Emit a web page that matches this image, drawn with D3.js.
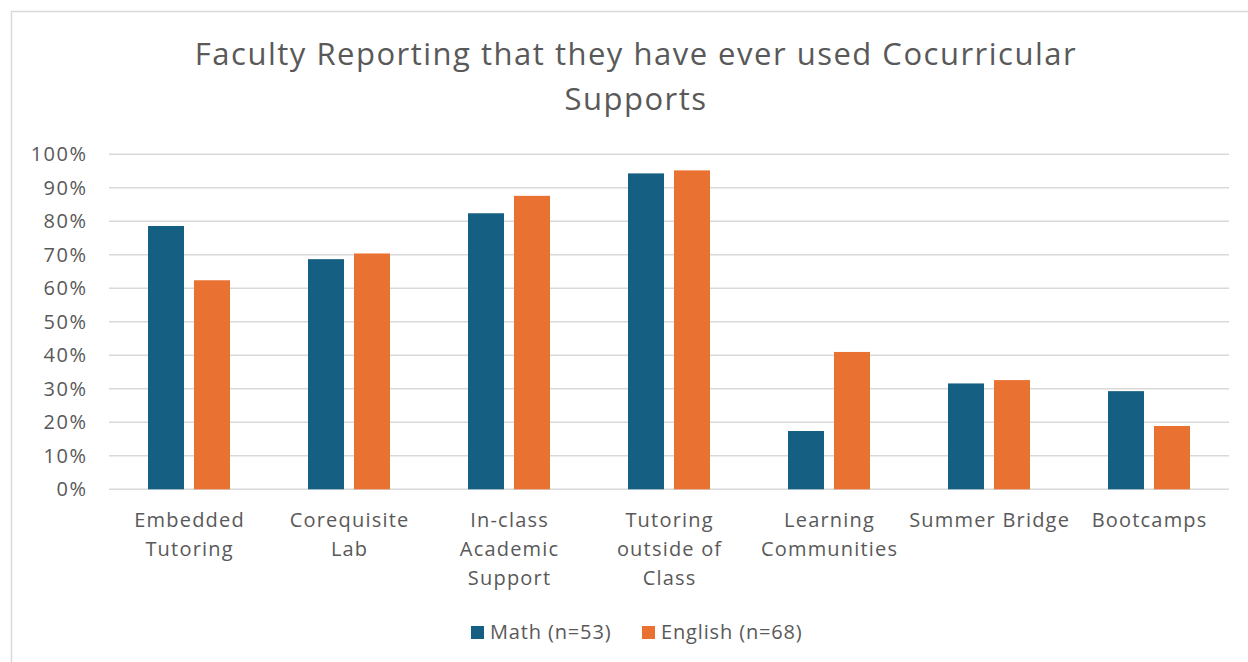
<!DOCTYPE html>
<html>
<head>
<meta charset="utf-8">
<script src="https://cdn.jsdelivr.net/npm/d3@7"></script>
<style>
  html, body { margin: 0; padding: 0; background: #ffffff; }
  svg { display: block; }
  text { font-family: "Open Sans", "Liberation Sans", sans-serif; fill: #595959; }
</style>
</head>
<body>
<svg id="chart" width="1248" height="662"></svg>
<script>
// Cocurricular supports and the share of faculty who have ever used each
const categories = [
  ["Embedded", "Tutoring"],
  ["Corequisite", "Lab"],
  ["In-class", "Academic", "Support"],
  ["Tutoring", "outside of", "Class"],
  ["Learning", "Communities"],
  ["Summer Bridge"],
  ["Bootcamps"]
];
const seriesNames = ["Math (n=53)", "English (n=68)"];
const mathValues = [78.6, 68.7, 82.4, 94.3, 17.4, 31.6, 29.3];
const englishValues = [62.4, 70.4, 87.6, 95.2, 41.0, 32.6, 18.9];
const yTicks = [0, 10, 20, 30, 40, 50, 60, 70, 80, 90, 100];
const titleLines = ["Faculty Reporting that they have ever used Cocurricular", "Supports"];

const colors = ["#156082", "#E97132"];
const seriesValues = [mathValues, englishValues];

const svg = d3.select("#chart");

// chart frame
svg.append("rect")
  .attr("x", 11.5).attr("y", 11.5)
  .attr("width", 1260).attr("height", 700)
  .attr("fill", "#ffffff")
  .attr("stroke", "#D9D9D9").attr("stroke-width", 1.5);

const plot = { left: 109, right: 1229, top: 154.3, bottom: 489.3 };

const x0 = d3.scaleBand()
  .domain(d3.range(categories.length))
  .range([plot.left, plot.right])
  .padding(0);

const groupWidth = 82;
const x1 = d3.scaleBand()
  .domain(d3.range(seriesNames.length))
  .range([(x0.bandwidth() - groupWidth) / 2, (x0.bandwidth() + groupWidth) / 2])
  .paddingInner(0.217);

const y = d3.scaleLinear().domain([0, 100]).range([plot.bottom, plot.top]);

// gridlines
svg.append("g")
  .selectAll("line")
  .data(yTicks)
  .join("line")
  .attr("x1", plot.left).attr("x2", plot.right)
  .attr("y1", d => y(d)).attr("y2", d => y(d))
  .attr("stroke", "#D9D9D9").attr("stroke-width", 1.5);

// y axis labels
const yAxis = d3.axisLeft(y).tickValues(yTicks).tickFormat(d => d + "%").tickSize(0).tickPadding(0);
const yg = svg.append("g").attr("transform", `translate(87.5,0)`).call(yAxis);
yg.select(".domain").remove();
yg.selectAll("text")
  .attr("font-size", 20)
  .attr("fill", "#595959")
  .style("letter-spacing", "1.5px")
  .style("font-family", '"Open Sans", sans-serif');

// bars
const groups = svg.append("g")
  .selectAll("g")
  .data(categories.map((c, i) => i))
  .join("g")
  .attr("transform", i => `translate(${x0(i)},0)`);

groups.selectAll("rect")
  .data(i => seriesValues.map((vals, s) => ({ s, v: vals[i] })))
  .join("rect")
  .attr("x", d => x1(d.s))
  .attr("width", x1.bandwidth())
  .attr("y", d => y(d.v))
  .attr("height", d => y(0) - y(d.v))
  .attr("fill", d => colors[d.s]);

// category labels
const catLabels = svg.append("g")
  .selectAll("text")
  .data(categories)
  .join("text")
  .attr("x", (d, i) => x0(i) + x0.bandwidth() / 2 + 0.6)
  .attr("y", 527)
  .attr("text-anchor", "middle")
  .attr("font-size", 20)
  .style("letter-spacing", "1.2px");
catLabels.selectAll("tspan")
  .data(d => d)
  .join("tspan")
  .attr("x", function () { return this.parentNode.getAttribute("x"); })
  .attr("dy", (d, i) => i === 0 ? 0 : 29)
  .text(d => d);

// title
svg.append("g")
  .selectAll("text")
  .data(titleLines)
  .join("text")
  .attr("x", 636)
  .attr("y", (d, i) => 65 + i * 45)
  .attr("text-anchor", "middle")
  .attr("font-size", 31)
  .style("letter-spacing", "1.5px")
  .text(d => d);

// legend
const legendItems = [
  { name: seriesNames[0], color: colors[0], x: 471 },
  { name: seriesNames[1], color: colors[1], x: 642 }
];
const lg = svg.append("g")
  .selectAll("g")
  .data(legendItems)
  .join("g")
  .attr("transform", d => `translate(${d.x},626)`);
lg.append("rect")
  .attr("width", 13).attr("height", 13)
  .attr("fill", d => d.color);
lg.append("text")
  .attr("x", 19).attr("y", 13)
  .attr("font-size", 20)
  .style("letter-spacing", "0.85px")
  .text(d => d.name);
</script>
</body>
</html>
